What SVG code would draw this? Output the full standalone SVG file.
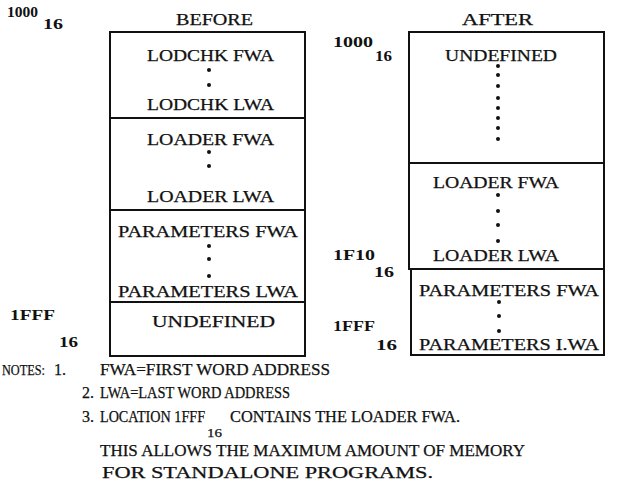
<svg xmlns="http://www.w3.org/2000/svg" width="626" height="493" viewBox="0 0 626 493">
<style>
text{font-family:"Liberation Serif","Times New Roman",serif;fill:#111;stroke:#111;stroke-width:0.25;}
.h{font-size:16px;}
.l{font-size:16px;}
.a{font-size:14px;font-weight:bold;stroke:none;}
.n{font-size:16px;}
.s{font-size:13px;}
.nt{font-size:14px;}
.seg{fill:#fff;stroke:#111;stroke-width:2;}
.d{fill:#111;}
</style>
<rect width="626" height="493" fill="#fff"/>
<text class="h" x="176" y="25" textLength="77" lengthAdjust="spacingAndGlyphs">BEFORE</text>
<text class="h" x="462" y="25" textLength="71" lengthAdjust="spacingAndGlyphs">AFTER</text>

<g id="addr-left">
<text class="a" x="7" y="17" textLength="31" lengthAdjust="spacingAndGlyphs">1000</text>
<text class="a" x="43" y="29" textLength="20" lengthAdjust="spacingAndGlyphs">16</text>
<text class="a" x="10" y="320" textLength="45" lengthAdjust="spacingAndGlyphs">1FFF</text>
<text class="a" x="59" y="347" textLength="19" lengthAdjust="spacingAndGlyphs">16</text>
</g>
<g id="addr-right">
<text class="a" x="333" y="47" textLength="40" lengthAdjust="spacingAndGlyphs">1000</text>
<text class="a" x="375" y="61" textLength="17" lengthAdjust="spacingAndGlyphs">16</text>
<text class="a" x="333" y="260" textLength="42" lengthAdjust="spacingAndGlyphs">1F10</text>
<text class="a" x="374" y="277" textLength="20" lengthAdjust="spacingAndGlyphs">16</text>
<text class="a" x="333" y="331" textLength="42" lengthAdjust="spacingAndGlyphs">1FFF</text>
<text class="a" x="376" y="350" textLength="21" lengthAdjust="spacingAndGlyphs">16</text>
</g>

<g id="before-lodchk">
<rect class="seg" x="110" y="32" width="195" height="86"/>
<text class="l" x="147" y="61" textLength="127" lengthAdjust="spacingAndGlyphs">LODCHK FWA</text>
<circle class="d" cx="209" cy="70" r="2"/><circle class="d" cx="209" cy="85" r="2"/>
<text class="l" x="147" y="110" textLength="127" lengthAdjust="spacingAndGlyphs">LODCHK LWA</text>
</g>
<g id="before-loader">
<rect class="seg" x="110" y="118" width="195" height="92"/>
<text class="l" x="147" y="145" textLength="127" lengthAdjust="spacingAndGlyphs">LOADER FWA</text>
<circle class="d" cx="209" cy="152" r="2"/><circle class="d" cx="209" cy="166" r="2"/>
<text class="l" x="147" y="202" textLength="127" lengthAdjust="spacingAndGlyphs">LOADER LWA</text>
</g>
<g id="before-parameters">
<rect class="seg" x="110" y="210" width="195" height="92"/>
<text class="l" x="118" y="237" textLength="180" lengthAdjust="spacingAndGlyphs">PARAMETERS FWA</text>
<circle class="d" cx="209" cy="246" r="2"/><circle class="d" cx="209" cy="259" r="2"/><circle class="d" cx="209" cy="276" r="2"/>
<text class="l" x="118" y="297" textLength="180" lengthAdjust="spacingAndGlyphs">PARAMETERS LWA</text>
</g>
<g id="before-undefined">
<rect class="seg" x="110" y="302" width="195" height="54"/>
<text class="l" x="152" y="327" textLength="123" lengthAdjust="spacingAndGlyphs">UNDEFINED</text>
</g>

<g id="after-undefined">
<rect class="seg" x="409" y="32" width="195" height="131"/>
<text class="l" x="445" y="61" textLength="112" lengthAdjust="spacingAndGlyphs">UNDEFINED</text>
<circle class="d" cx="498" cy="66" r="2"/><circle class="d" cx="498" cy="75" r="2"/><circle class="d" cx="498" cy="86" r="2"/><circle class="d" cx="498" cy="98" r="2"/><circle class="d" cx="498" cy="108" r="2"/><circle class="d" cx="498" cy="118" r="2"/><circle class="d" cx="498" cy="128" r="2"/><circle class="d" cx="498" cy="139" r="2"/>
</g>
<g id="after-loader">
<rect class="seg" x="409" y="163" width="195" height="106"/>
<text class="l" x="433" y="188" textLength="126" lengthAdjust="spacingAndGlyphs">LOADER FWA</text>
<circle class="d" cx="498" cy="195" r="2"/><circle class="d" cx="498" cy="211" r="2"/><circle class="d" cx="498" cy="225" r="2"/><circle class="d" cx="498" cy="241" r="2"/>
<text class="l" x="433" y="261" textLength="126" lengthAdjust="spacingAndGlyphs">LOADER LWA</text>
</g>
<g id="after-parameters">
<rect class="seg" x="411" y="269" width="193" height="86"/>
<text class="l" x="419" y="296" textLength="180" lengthAdjust="spacingAndGlyphs">PARAMETERS FWA</text>
<circle class="d" cx="499" cy="302" r="2"/><circle class="d" cx="499" cy="316" r="2"/><circle class="d" cx="499" cy="331" r="2"/>
<text class="l" x="419" y="350" textLength="180" lengthAdjust="spacingAndGlyphs">PARAMETERS I.WA</text>
</g>

<g id="notes">
<text class="nt" x="2" y="375" textLength="43" lengthAdjust="spacingAndGlyphs">NOTES:</text>
<text class="n" x="54" y="375">1.</text>
<text class="n" x="100" y="375" textLength="230" lengthAdjust="spacingAndGlyphs">FWA=FIRST WORD ADDRESS</text>
<text class="n" x="82" y="398">2.</text>
<text class="n" x="100" y="398" textLength="190" lengthAdjust="spacingAndGlyphs">LWA=LAST WORD ADDRESS</text>
<text class="n" x="82" y="422">3.</text>
<text class="n" x="100" y="422" textLength="105" lengthAdjust="spacingAndGlyphs">LOCATION 1FFF</text>
<text class="n s" x="207" y="437" textLength="15" lengthAdjust="spacingAndGlyphs">16</text>
<text class="n" x="230" y="422" textLength="230" lengthAdjust="spacingAndGlyphs">CONTAINS THE LOADER FWA.</text>
<text class="n" x="100" y="456" textLength="425" lengthAdjust="spacingAndGlyphs">THIS ALLOWS THE MAXIMUM AMOUNT OF MEMORY</text>
<text class="n" x="102" y="478" textLength="331" lengthAdjust="spacingAndGlyphs">FOR STANDALONE PROGRAMS.</text>
</g>
</svg>
